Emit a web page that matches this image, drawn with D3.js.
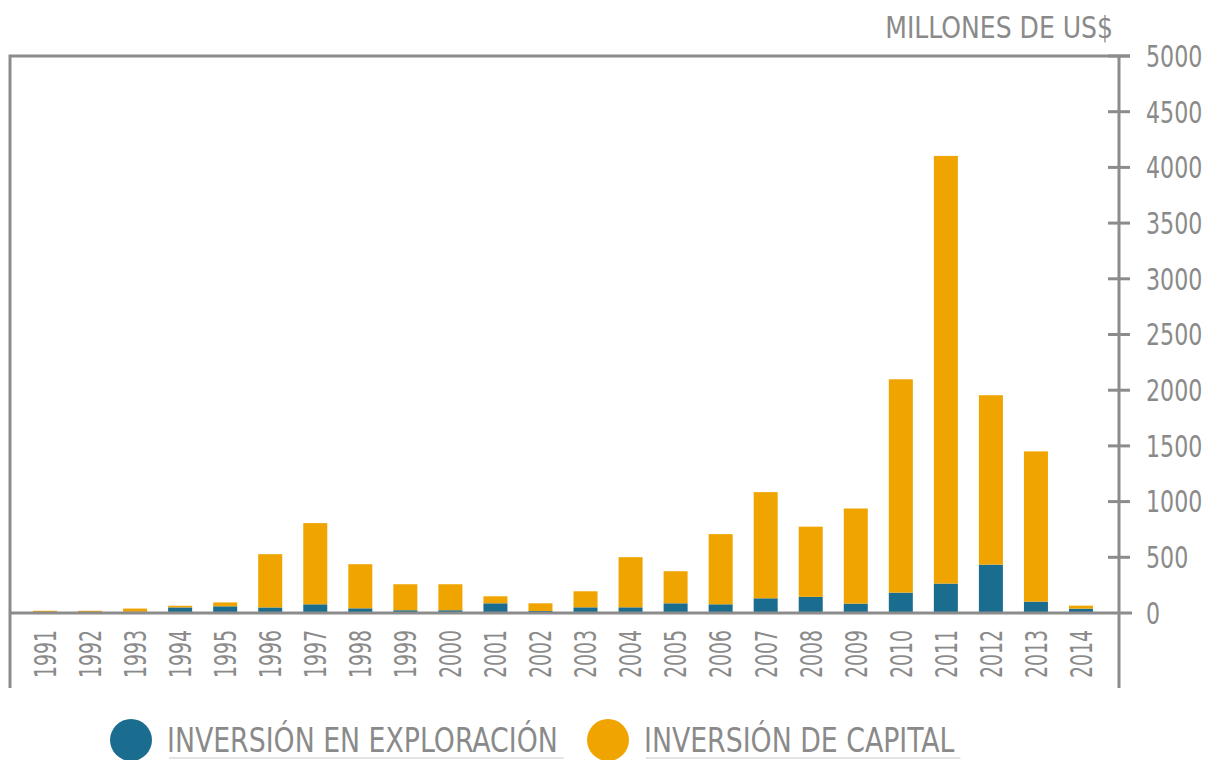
<!DOCTYPE html>
<html lang="es">
<head>
<meta charset="UTF-8">
<title>Inversión minera</title>
<style>
  body, html { margin: 0; padding: 0; background: #fff; overflow: hidden; }
  svg { display: block; }
  text { font-family: "DejaVu Sans Condensed", "DejaVu Sans", sans-serif; fill: #8a8a8a; }
</style>
</head>
<body>
<svg width="1208" height="760"></svg>
<script src="https://d3js.org/d3.v7.min.js"></script>
<script>
  // data (millones de US$)
  const years = ["1991","1992","1993","1994","1995","1996","1997","1998","1999","2000","2001","2002",
                 "2003","2004","2005","2006","2007","2008","2009","2010","2011","2012","2013","2014"];
  const exploracion = [3, 3, 12, 50, 60, 50, 78, 42, 25, 25, 87, 18,
                       51, 51, 87, 78, 132, 145, 84, 183, 264, 434, 102, 39];
  const capital = [17, 17, 28, 15, 35, 478, 729, 396, 233, 233, 63, 69,
                   144, 450, 288, 630, 953, 630, 854, 1915, 3839, 1521, 1349, 27];
  const yTicks = [0, 500, 1000, 1500, 2000, 2500, 3000, 3500, 4000, 4500, 5000];
  const seriesNames = ["INVERSIÓN EN EXPLORACIÓN", "INVERSIÓN DE CAPITAL"];
  const colors = ["#1b6d8f", "#f0a400"];

  const svg = d3.select("svg");
  const gray = "#8c8c8c";

  const frameLeft = 10, axisX = 1119, frameTop = 56, frameBottom = 688;

  // squeeze text horizontally, the original uses a narrow DIN-like face
  function condense(sel, f) {
    sel.each(function () {
      const w = this.getComputedTextLength();
      d3.select(this).attr("textLength", w * f).attr("lengthAdjust", "spacingAndGlyphs");
    });
  }

  const x = d3.scaleBand()
    .domain(years)
    .range([22.5, 1103.5])
    .paddingInner(0.467)
    .paddingOuter(0.2335);

  const y = d3.scaleLinear()
    .domain([0, 5000])
    .range([613, frameTop]);

  const rows = years.map((yr, i) => ({ year: yr, exp: exploracion[i], cap: capital[i] }));
  const layers = d3.stack().keys(["exp", "cap"])(rows);

  // bars
  svg.append("g").selectAll("g")
    .data(layers)
    .join("g")
    .attr("fill", (d, i) => colors[i])
    .selectAll("rect")
    .data(d => d)
    .join("rect")
    .attr("x", d => x(d.data.year))
    .attr("width", x.bandwidth())
    .attr("y", d => y(d[1]))
    .attr("height", d => y(d[0]) - y(d[1]));

  // frame
  const frame = svg.append("g").attr("stroke", gray).attr("stroke-width", 3).attr("fill", "none");
  frame.append("path").attr("d", `M${frameLeft},${frameBottom}V${frameTop}H${axisX + 11}`);
  frame.append("line").attr("x1", axisX).attr("x2", axisX).attr("y1", frameTop).attr("y2", frameBottom);
  frame.append("line").attr("x1", frameLeft).attr("x2", axisX + 13).attr("y1", y(0)).attr("y2", y(0));

  // right axis ticks + labels
  const ticks = svg.append("g");
  ticks.selectAll("line")
    .data(yTicks.filter(d => d > 0))
    .join("line")
    .attr("x1", axisX - 11).attr("x2", axisX + 11)
    .attr("y1", d => y(d)).attr("y2", d => y(d))
    .attr("stroke", gray).attr("stroke-width", 3);
  ticks.selectAll("text")
    .data(yTicks)
    .join("text")
    .attr("transform", d => `translate(${axisX + 27},${y(d)}) scale(0.82,1)`)
    .attr("dy", "0.36em")
    .attr("font-size", 30)
    .text(d => d);

  svg.append("text")
    .attr("x", 1113).attr("y", 38)
    .attr("text-anchor", "end")
    .attr("font-size", 31)
    .text("MILLONES DE US$")
    .call(condense, 0.9);

  // year labels
  svg.append("g").selectAll("text")
    .data(years)
    .join("text")
    .attr("transform", d => `translate(${x(d) + x.bandwidth() / 2},630) rotate(-90)`)
    .attr("text-anchor", "end")
    .attr("dy", "0.36em")
    .attr("font-size", 30)
    .text(d => d)
    .call(condense, 0.7);

  // legend
  const legendX = [131, 608];
  const legend = svg.append("g").selectAll("g")
    .data(seriesNames)
    .join("g")
    .attr("transform", (d, i) => `translate(${legendX[i]},740)`);
  legend.append("circle").attr("r", 21).attr("fill", (d, i) => colors[i]);
  legend.append("text")
    .attr("x", 36).attr("y", 12)
    .attr("font-size", 34)
    .text(d => d)
    .call(condense, 0.875);
  legend.each(function () {
    const g = d3.select(this);
    const w = +g.select("text").attr("textLength");
    g.append("line")
      .attr("x1", 38).attr("x2", 38 + w + 4)
      .attr("y1", 18).attr("y2", 18)
      .attr("stroke", "#c8c8c8").attr("stroke-width", 1);
  });
</script>
</body>
</html>
